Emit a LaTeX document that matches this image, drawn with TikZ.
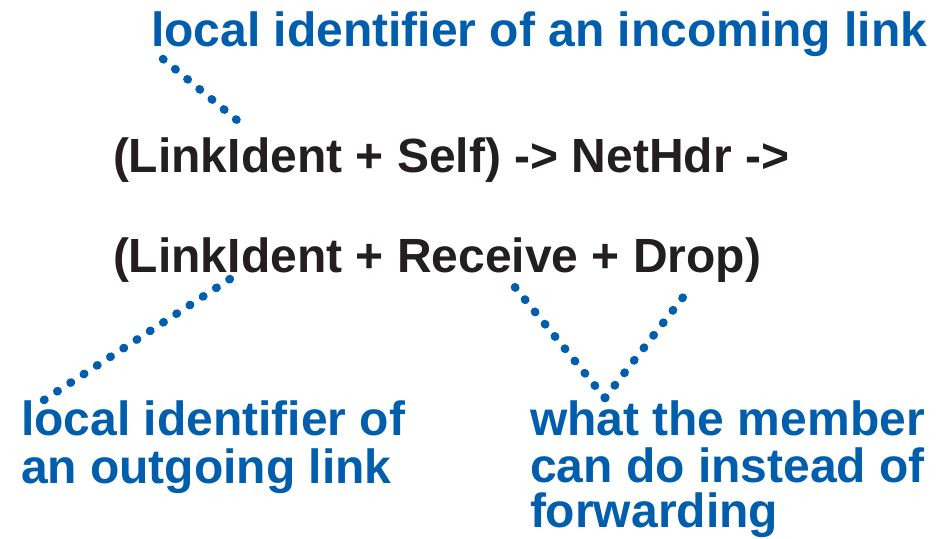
\documentclass[tikz,border=0pt]{standalone}
\usepackage{fontspec}
\setmainfont{Liberation Sans}
\definecolor{noteblue}{RGB}{0,94,172}
\definecolor{codeink}{RGB}{35,31,32}
\tikzset{
  txt/.style={anchor=base west, inner sep=0pt, outer sep=0pt,
    font=\fontsize{48}{52}\selectfont\bfseries},
  code/.style={txt, text=codeink},
  note/.style={txt, text=noteblue},
  dotline/.style={draw=noteblue, line width=8.5pt, line cap=round,
    dash pattern=on 0.6pt off 15.2pt}
}
\begin{document}
\begin{tikzpicture}[x=1pt,y=-1pt]
  \useasboundingbox (0,0) rectangle (949,538);

  % annotations
  \node[note] (inc) at (151,46) {local identifier of an incoming link};
  \node[note] (out1) at (21,435) {local identifier of};
  \node[note] (out2) at (21,483) {an outgoing link};
  \node[note] (act1) at (530,435) {what the member};
  \node[note] (act2) at (530,482) {can do instead of};
  \node[note] (act3) at (530,527) {forwarding};

  % type signature
  \node[code] (sig1) at (113,172) {(LinkIdent + Self) -> NetHdr ->};
  \node[code] (sig2) at (113,272) {(LinkIdent + Receive + Drop)};

  % dotted leader ends
  \coordinate (incA) at (163,59);
  \coordinate (incB) at (238,121);
  \coordinate (outA) at (44,400);
  \coordinate (outB) at (233,277);
  \coordinate (actV) at (605,398);
  \coordinate (actL) at (514,286);
  \coordinate (actR) at (691,287);

  \draw[dotline] (incA) -- (incB);
  \draw[dotline] (outA) -- (outB);
  \draw[dotline] (actV) -- (actL);
  \draw[dotline] (actV) -- (actR);
\end{tikzpicture}
\end{document}
